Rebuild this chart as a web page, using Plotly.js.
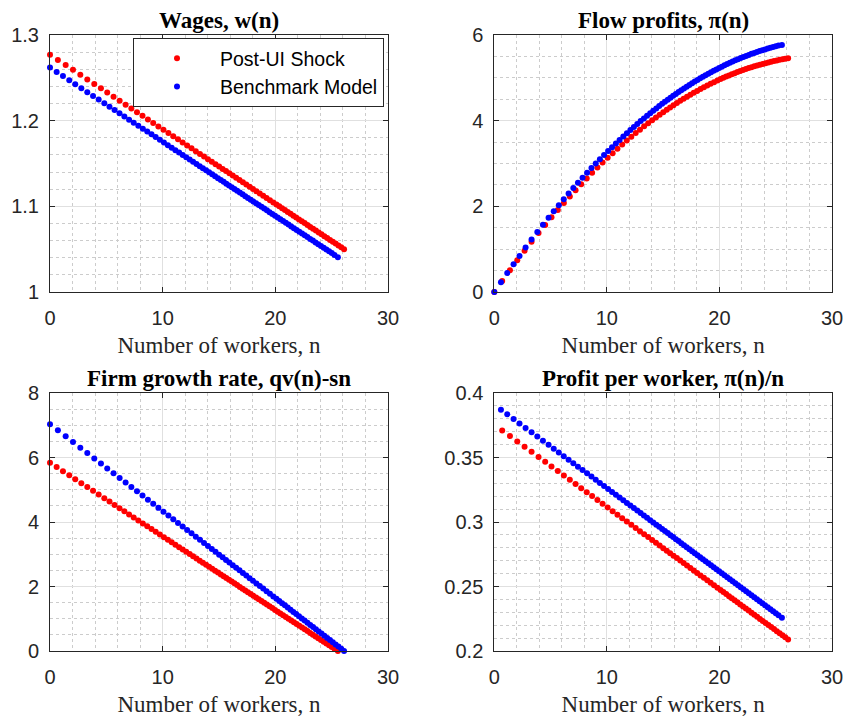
<!DOCTYPE html>
<html>
<head>
<meta charset="utf-8">
<script src="https://cdn.plot.ly/plotly-3.0.1.min.js"></script>
<style>html,body{margin:0;padding:0;background:#fff;}#chart{width:846px;height:717px;}</style>
</head>
<body>
<div id="chart"></div>
<script>
// n grid of the Post-UI Shock model (ends near 26.1)
const nA = [0, 0.70, 1.39, 2.04, 2.69, 3.31, 3.93, 4.52, 5.08, 5.64, 6.18, 6.71, 7.22, 7.72, 8.21, 8.69, 9.16, 9.62, 10.07, 10.51, 10.94, 11.36, 11.77, 12.17, 12.56, 12.94, 13.31, 13.67, 14.02, 14.36, 14.69, 15.01, 15.32, 15.62, 15.92, 16.22, 16.52, 16.82, 17.12, 17.42, 17.72, 18.02, 18.32, 18.62, 18.92, 19.22, 19.52, 19.82, 20.10, 20.35, 20.60, 20.85, 21.10, 21.35, 21.60, 21.85, 22.10, 22.35, 22.60, 22.85, 23.10, 23.35, 23.60, 23.85, 24.10, 24.35, 24.60, 24.85, 25.10, 25.35, 25.60, 25.85, 26.10];
// n grid of the Benchmark model (ends near 25.55)
const nB = [0, 0.59, 1.15, 1.71, 2.24, 2.78, 3.31, 3.82, 4.32, 4.82, 5.28, 5.73, 6.17, 6.60, 7.02, 7.43, 7.84, 8.24, 8.63, 9.01, 9.38, 9.75, 10.11, 10.46, 10.80, 11.13, 11.46, 11.78, 12.09, 12.40, 12.70, 13.00, 13.29, 13.57, 13.85, 14.12, 14.39, 14.65, 14.91, 15.16, 15.41, 15.65, 15.89, 16.13, 16.37, 16.61, 16.85, 17.09, 17.33, 17.57, 17.81, 18.05, 18.29, 18.53, 18.77, 19.01, 19.25, 19.49, 19.73, 19.97, 20.21, 20.45, 20.69, 20.93, 21.17, 21.41, 21.65, 21.89, 22.13, 22.37, 22.61, 22.85, 23.09, 23.33, 23.57, 23.81, 24.05, 24.29, 24.53, 24.77, 25.01, 25.25, 25.55];

// Wages w(n)
const wRed = [1.2770, 1.2709, 1.2649, 1.2593, 1.2536, 1.2482, 1.2428, 1.2377, 1.2328, 1.2279, 1.2232, 1.2186, 1.2142, 1.2098, 1.2056, 1.2014, 1.1973, 1.1933, 1.1894, 1.1856, 1.1818, 1.1782, 1.1746, 1.1711, 1.1677, 1.1644, 1.1612, 1.1581, 1.1550, 1.1521, 1.1492, 1.1464, 1.1437, 1.1411, 1.1385, 1.1359, 1.1333, 1.1307, 1.1281, 1.1254, 1.1228, 1.1202, 1.1176, 1.1150, 1.1124, 1.1098, 1.1072, 1.1046, 1.1021, 1.1000, 1.0978, 1.0956, 1.0934, 1.0913, 1.0891, 1.0869, 1.0847, 1.0826, 1.0804, 1.0782, 1.0760, 1.0739, 1.0717, 1.0695, 1.0673, 1.0652, 1.0630, 1.0608, 1.0586, 1.0565, 1.0543, 1.0521, 1.0499];
const wBlue = [1.2620, 1.2569, 1.2520, 1.2472, 1.2426, 1.2379, 1.2333, 1.2289, 1.2246, 1.2203, 1.2163, 1.2124, 1.2086, 1.2048, 1.2012, 1.1977, 1.1941, 1.1906, 1.1873, 1.1840, 1.1808, 1.1776, 1.1745, 1.1714, 1.1685, 1.1656, 1.1628, 1.1600, 1.1573, 1.1546, 1.1520, 1.1494, 1.1469, 1.1445, 1.1421, 1.1397, 1.1374, 1.1351, 1.1329, 1.1307, 1.1286, 1.1265, 1.1244, 1.1223, 1.1202, 1.1182, 1.1161, 1.1140, 1.1119, 1.1098, 1.1078, 1.1057, 1.1036, 1.1015, 1.0995, 1.0974, 1.0953, 1.0932, 1.0911, 1.0891, 1.0870, 1.0849, 1.0828, 1.0807, 1.0787, 1.0766, 1.0745, 1.0724, 1.0704, 1.0683, 1.0662, 1.0641, 1.0620, 1.0600, 1.0579, 1.0558, 1.0537, 1.0517, 1.0496, 1.0475, 1.0454, 1.0433, 1.0407];

// Flow profits pi(n)
const piRed = [0, 0.2597, 0.5096, 0.7395, 0.9638, 1.1731, 1.3771, 1.5671, 1.7429, 1.9148, 2.0771, 2.2324, 2.3783, 2.5183, 2.6527, 2.7817, 2.9046, 3.0216, 3.1348, 3.2413, 3.3444, 3.4421, 3.5357, 3.6254, 3.7102, 3.7901, 3.8679, 3.9411, 4.0111, 4.0768, 4.1396, 4.1983, 4.2559, 4.3080, 4.3605, 4.4118, 4.4621, 4.5111, 4.5591, 4.6058, 4.6497, 4.6942, 4.7376, 4.7798, 4.8208, 4.8607, 4.8995, 4.9352, 4.9707, 5.0000, 5.0285, 5.0561, 5.0830, 5.1091, 5.1343, 5.1588, 5.1825, 5.2053, 5.2274, 5.2486, 5.2691, 5.2888, 5.3076, 5.3257, 5.3430, 5.3594, 5.3776, 5.3925, 5.4065, 5.4198, 5.4323, 5.4440, 5.4549];
const piBlue = [0, 0.2284, 0.4410, 0.6496, 0.8431, 1.0367, 1.2230, 1.3989, 1.5682, 1.7342, 1.8839, 2.0278, 2.1657, 2.2988, 2.4261, 2.5477, 2.6680, 2.7826, 2.8928, 2.9976, 3.0982, 3.1970, 3.2918, 3.3817, 3.4679, 3.5505, 3.6317, 3.7083, 3.7818, 3.8539, 3.9230, 3.9897, 4.0535, 4.1144, 4.1744, 4.2318, 4.2868, 4.3408, 4.3925, 4.4419, 4.4905, 4.5354, 4.5811, 4.6245, 4.6687, 4.7106, 4.7517, 4.7937, 4.8333, 4.8739, 4.9120, 4.9511, 4.9877, 5.0253, 5.0604, 5.0966, 5.1301, 5.1649, 5.1969, 5.2301, 5.2607, 5.2925, 5.3215, 5.3518, 5.3793, 5.4082, 5.4342, 5.4616, 5.4860, 5.5120, 5.5349, 5.5594, 5.5809, 5.6039, 5.6238, 5.6454, 5.6638, 5.6839, 5.7008, 5.7194, 5.7348, 5.7520, 5.7692];

// Firm growth rate qv(n)-sn  (red on grid nB, blue on grid nA)
const gRed = [5.840, 5.705, 5.577, 5.449, 5.328, 5.204, 5.083, 4.967, 4.852, 4.738, 4.633, 4.530, 4.430, 4.331, 4.235, 4.142, 4.048, 3.956, 3.867, 3.780, 3.696, 3.611, 3.529, 3.449, 3.371, 3.296, 3.220, 3.147, 3.076, 3.005, 2.937, 2.868, 2.802, 2.738, 2.674, 2.612, 2.550, 2.491, 2.432, 2.374, 2.317, 2.262, 2.208, 2.153, 2.098, 2.043, 1.988, 1.933, 1.878, 1.824, 1.769, 1.714, 1.659, 1.604, 1.549, 1.494, 1.439, 1.385, 1.330, 1.275, 1.220, 1.165, 1.110, 1.055, 1.000, 0.946, 0.891, 0.836, 0.781, 0.726, 0.671, 0.617, 0.562, 0.507, 0.452, 0.397, 0.342, 0.287, 0.232, 0.178, 0.123, 0.068, 0.000];
const gBlue = [7.030, 6.842, 6.656, 6.481, 6.306, 6.139, 5.972, 5.813, 5.662, 5.511, 5.366, 5.223, 5.086, 4.951, 4.819, 4.690, 4.563, 4.439, 4.318, 4.200, 4.084, 3.971, 3.860, 3.753, 3.648, 3.545, 3.446, 3.349, 3.254, 3.163, 3.074, 2.988, 2.904, 2.824, 2.743, 2.662, 2.581, 2.500, 2.420, 2.339, 2.258, 2.177, 2.096, 2.016, 1.935, 1.854, 1.773, 1.693, 1.617, 1.550, 1.482, 1.415, 1.348, 1.280, 1.213, 1.146, 1.079, 1.011, 0.944, 0.876, 0.809, 0.742, 0.675, 0.607, 0.540, 0.473, 0.405, 0.338, 0.271, 0.203, 0.136, 0.069, 0.000];

// Profit per worker pi(n)/n (n = 0 excluded)
const ppwRed = [0.3710, 0.3666, 0.3625, 0.3583, 0.3544, 0.3504, 0.3467, 0.3431, 0.3395, 0.3361, 0.3327, 0.3294, 0.3262, 0.3231, 0.3201, 0.3171, 0.3141, 0.3113, 0.3084, 0.3057, 0.3030, 0.3004, 0.2979, 0.2954, 0.2929, 0.2906, 0.2883, 0.2861, 0.2839, 0.2818, 0.2797, 0.2778, 0.2758, 0.2739, 0.2720, 0.2701, 0.2682, 0.2663, 0.2644, 0.2624, 0.2605, 0.2586, 0.2567, 0.2548, 0.2529, 0.2510, 0.2490, 0.2473, 0.2457, 0.2441, 0.2425, 0.2409, 0.2393, 0.2377, 0.2361, 0.2345, 0.2329, 0.2313, 0.2297, 0.2281, 0.2265, 0.2249, 0.2233, 0.2217, 0.2201, 0.2186, 0.2170, 0.2154, 0.2138, 0.2122, 0.2106, 0.2090];
const ppwBlue = [0.3871, 0.3835, 0.3799, 0.3764, 0.3729, 0.3695, 0.3662, 0.3630, 0.3598, 0.3568, 0.3539, 0.3510, 0.3483, 0.3456, 0.3429, 0.3403, 0.3377, 0.3352, 0.3327, 0.3303, 0.3279, 0.3256, 0.3233, 0.3211, 0.3190, 0.3169, 0.3148, 0.3128, 0.3108, 0.3089, 0.3069, 0.3050, 0.3032, 0.3014, 0.2997, 0.2979, 0.2963, 0.2946, 0.2930, 0.2914, 0.2898, 0.2883, 0.2867, 0.2852, 0.2836, 0.2820, 0.2805, 0.2789, 0.2774, 0.2758, 0.2743, 0.2727, 0.2712, 0.2696, 0.2681, 0.2665, 0.2650, 0.2634, 0.2619, 0.2603, 0.2588, 0.2572, 0.2557, 0.2541, 0.2526, 0.2510, 0.2495, 0.2479, 0.2464, 0.2448, 0.2433, 0.2417, 0.2402, 0.2386, 0.2371, 0.2355, 0.2340, 0.2324, 0.2309, 0.2293, 0.2278, 0.2258];

const seriesNames = ['Post-UI Shock', 'Benchmark Model'];
const panelTitles = ['Wages, w(n)', 'Flow profits, \u03C0(n)', 'Firm growth rate, qv(n)-sn', 'Profit per worker, \u03C0(n)/n'];
const xLabel = 'Number of workers, n';

const RED = '#ff0000', BLUE = '#0000ff';
const MS = 6;
function tr(x, y, color, name, ax, show) {
  return {x: x, y: y, type: 'scatter', mode: 'markers', name: name, showlegend: show,
    cliponaxis: false,
    marker: {color: color, size: MS, line: {width: 0}},
    xaxis: 'x' + ax, yaxis: 'y' + ax, hoverinfo: 'skip'};
}
const traces = [
  tr(nA, wRed, RED, seriesNames[0], '', true),
  tr(nB, wBlue, BLUE, seriesNames[1], '', true),
  tr(nA, piRed, RED, seriesNames[0], '2', false),
  tr(nB, piBlue, BLUE, seriesNames[1], '2', false),
  tr(nB, gRed, RED, seriesNames[0], '3', false),
  tr(nA, gBlue, BLUE, seriesNames[1], '3', false),
  tr(nA.slice(1), ppwRed, RED, seriesNames[0], '4', false),
  tr(nB.slice(1), ppwBlue, BLUE, seriesNames[1], '4', false)
];

const W = 846, H = 717;
const colX = [[50, 388], [494.3, 832]];
const rowY = [[35, 292], [393, 651]];
const AX = '#262626';
const tickFont = {family: 'Liberation Sans, Arial, sans-serif', size: 20, color: AX};
function xa(col, row) {
  return {domain: [colX[col][0] / W, colX[col][1] / W], range: [0, 30], dtick: 10, tick0: 0,
    anchor: 'y' + (row * 2 + col === 0 ? '' : (row * 2 + col + 1)),
    showline: true, linecolor: AX, linewidth: 1, mirror: 'ticks', ticks: 'inside', ticklen: 5, tickcolor: AX,
    showgrid: true, gridcolor: '#e0e0e0', gridwidth: 1, zeroline: false,
    minor: {dtick: 2, showgrid: true, gridcolor: '#cccccc', griddash: 'dot', gridwidth: 1},
    tickfont: tickFont, ticklabelstandoff: 8, fixedrange: true,
    title: {text: xLabel, font: {family: 'Liberation Serif, Times New Roman, serif', size: 23, color: AX}, standoff: 8}};
}
function ya(col, row, range, dtick, minor) {
  return {domain: [1 - rowY[row][1] / H, 1 - rowY[row][0] / H], range: range, dtick: dtick, tick0: range[0],
    anchor: 'x' + (row * 2 + col === 0 ? '' : (row * 2 + col + 1)),
    showline: true, linecolor: AX, linewidth: 1, mirror: 'ticks', ticks: 'inside', ticklen: 5, tickcolor: AX,
    showgrid: true, gridcolor: '#e0e0e0', gridwidth: 1, zeroline: false,
    minor: {dtick: minor, tick0: range[0], showgrid: true, gridcolor: '#cccccc', griddash: 'dot', gridwidth: 1},
    tickfont: tickFont, ticklabelstandoff: 6, fixedrange: true};
}
const annotations = panelTitles.map(function (t, i) {
  const col = i % 2, row = Math.floor(i / 2);
  return {text: '<b>' + t + '</b>', xref: 'paper', yref: 'paper',
    x: (colX[col][0] + colX[col][1]) / 2 / W, y: 1 - rowY[row][0] / H,
    xanchor: 'center', yanchor: 'bottom', yshift: 0, showarrow: false,
    font: {family: 'Liberation Serif, Times New Roman, serif', size: 23, color: '#000'}};
});

const layout = {
  width: W, height: H, margin: {l: 0, r: 0, t: 0, b: 0},
  paper_bgcolor: '#fff', plot_bgcolor: '#fff',
  showlegend: true,
  legend: {x: 384 / W, y: 1 - 38 / H, xanchor: 'right', yanchor: 'top',
    bgcolor: '#fff', bordercolor: AX, borderwidth: 1, itemwidth: 76, tracegroupgap: 0,
    font: {family: 'Liberation Sans, Arial, sans-serif', size: 19.5, color: '#000'}},
  xaxis: xa(0, 0), yaxis: ya(0, 0, [1, 1.3], 0.1, 0.02),
  xaxis2: xa(1, 0), yaxis2: ya(1, 0, [0, 6], 2, 0.5),
  xaxis3: xa(0, 1), yaxis3: ya(0, 1, [0, 8], 2, 0.5),
  xaxis4: xa(1, 1), yaxis4: ya(1, 1, [0.2, 0.4], 0.05, 0.01),
  annotations: annotations
};
Plotly.newPlot('chart', traces, layout, {displayModeBar: false, staticPlot: true});
</script>
</body>
</html>
